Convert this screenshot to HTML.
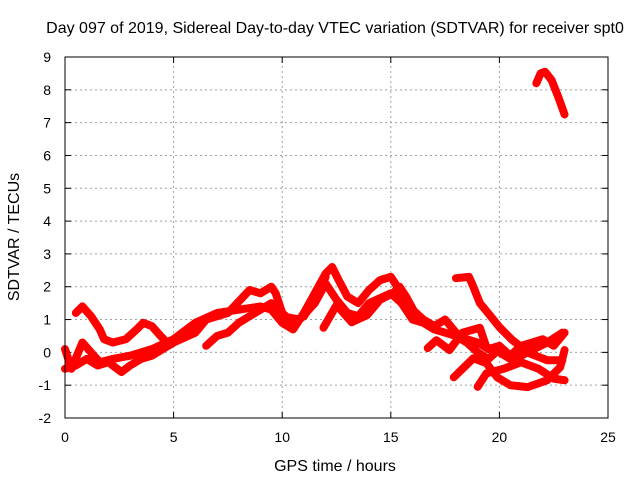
<!DOCTYPE html>
<html><head><meta charset="utf-8"><style>
html,body{margin:0;padding:0;background:#fff;}
svg{display:block;font-family:"Liberation Sans",sans-serif;}
</style></head><body>
<svg id="chart" width="640" height="480">
<text x="335" y="33" font-size="16" text-anchor="middle">Day 097 of 2019, Sidereal Day-to-day VTEC variation (SDTVAR) for receiver spt0</text>
<text x="335" y="471" font-size="16" text-anchor="middle">GPS time / hours</text>
<text x="19" y="237" font-size="16" text-anchor="middle" transform="rotate(-90 19 237)">SDTVAR / TECUs</text>
<g id="grid"></g><g id="ticks"></g><g id="series"></g>
<rect x="65" y="57" width="543" height="361" fill="none" stroke="#000" stroke-width="1"/>
</svg>
<script>
const xTicks=[0,5,10,15,20,25];
const yTicks=[-2,-1,0,1,2,3,4,5,6,7,8,9];
const s1=[[0.5,1.2],[0.8,1.4],[1.2,1.1],[1.6,0.7],[1.8,0.4],[2.2,0.3],[2.8,0.4],[3.3,0.7],[3.6,0.9],[4.0,0.8],[4.4,0.5],[4.7,0.3]];
const s2=[[0,-0.5],[0.5,-0.4],[1,-0.2],[1.5,-0.4],[2,-0.3],[2.6,-0.6],[3,-0.4],[3.5,-0.2],[4,-0.1],[4.5,0.1],[5,0.3]];
const s3=[[0,0.1],[0.3,-0.5],[0.8,0.3],[1.2,0],[1.6,-0.3],[2.2,-0.2],[3,-0.1],[4,0.1],[5,0.4]];
const s4=[[5,0.3],[6,0.6],[6.5,1.0],[7.5,1.2],[8.5,1.9],[9,1.8],[9.5,2.0],[9.7,1.8],[10,1.2],[10.5,0.9],[11,1.1],[11.5,1.6],[12,2.3]];
const s5=[[5,0.4],[6,0.9],[7,1.2],[8,1.3],[9,1.4],[9.5,1.3],[10,0.9],[10.5,0.7],[11,1.2],[11.5,1.8],[12,2.4],[12.3,2.6],[12.6,2.2],[13,1.7],[13.5,1.5],[14,1.9],[14.5,2.2],[15,2.3],[15.5,1.8],[16,1.3],[16.5,1.0],[17,0.8],[17.5,1.0],[18,0.6],[18.5,0.4],[19,0.3],[19.5,0.1],[20,0.2],[20.5,-0.1],[21,0.2],[21.5,0.3],[22,0.4],[22.5,0.2],[23,0.6]];
const s6=[[6.5,0.2],[7,0.5],[7.5,0.6],[8,0.9],[8.5,1.1],[9,1.3],[9.5,1.5],[10,1.1],[10.8,1.0],[11.5,1.5],[12,2.1],[12.5,1.6],[13,1.2],[13.5,1.1],[14,1.5],[15,1.8],[15.5,1.5],[16,1.0],[16.5,0.9],[17,0.7],[17.5,0.6],[18,0.5],[18.5,0.3],[19,0.0],[19.5,-0.2],[20,0.1]];
const s7=[[11.9,0.75],[12.5,1.44],[13.2,0.92],[13.9,1.13],[14.5,1.6],[15.1,1.8],[15.4,2.0],[15.7,1.7],[16.2,1.1],[16.7,0.9]];
const s8=[[16.7,0.13],[17.1,0.37],[17.7,0.07],[18.3,0.6],[19.1,0.75],[19.4,0.16],[20.0,0.0],[20.6,-0.24],[21.5,0.07],[22.2,0.3],[22.9,0.6]];
const s9=[[18.0,2.26],[18.6,2.3],[18.8,2.0],[19.1,1.5],[19.6,1.1],[20.0,0.77],[20.6,0.37],[21.4,-0.03],[22.2,-0.24],[22.9,-0.24]];
const s10=[[17.9,-0.76],[18.8,-0.18],[19.4,-0.33],[19.9,-0.76],[20.5,-1.0],[21.3,-1.06],[22.2,-0.85],[22.8,-0.45],[23.0,0.07]];
const s11=[[19.0,-1.05],[19.4,-0.64],[20.2,-0.5],[21,-0.3],[21.8,-0.5],[22.5,-0.8],[23,-0.85]];
const s12=[[21.7,8.2],[21.9,8.5],[22.1,8.55],[22.4,8.3],[22.7,7.8],[23.0,7.25]];
const allSeries=[s1,s2,s3,s4,s5,s6,s7,s8,s9,s10,s11,s12];
const X0=65,X1=608,Y0=418,Y1=57;
const xs=v=>X0+(v-0)/(25-0)*(X1-X0);
const ys=v=>Y0-(v+2)/(9+2)*(Y0-Y1);
const NS="http://www.w3.org/2000/svg";
const grid=document.getElementById('grid'),ticks=document.getElementById('ticks'),ser=document.getElementById('series');
function mk(t,a,p){const e=document.createElementNS(NS,t);for(const k in a)e.setAttribute(k,a[k]);p.appendChild(e);return e;}
xTicks.forEach(v=>{const x=xs(v);
 if(v>0&&v<25){const g=mk('line',{x1:x,x2:x,y1:Y0,y2:Y1,stroke:'#a0a0a0','stroke-dasharray':'2,3'},grid);
 
 }
 mk('line',{x1:x,x2:x,y1:Y0,y2:Y0-6,stroke:'#000'},ticks);mk('line',{x1:x,x2:x,y1:Y1,y2:Y1+6,stroke:'#000'},ticks);
 const t=mk('text',{x:x,y:Y0+24,'font-size':14,'text-anchor':'middle'},ticks);t.textContent=v;
 
 });
yTicks.forEach(v=>{const y=ys(v);
 if(v>-2&&v<9){const g=mk('line',{x1:X0,x2:X1,y1:y,y2:y,stroke:'#a0a0a0','stroke-dasharray':'2,3'},grid);
 
 }
 mk('line',{x1:X0,x2:X0+6,y1:y,y2:y,stroke:'#000'},ticks);mk('line',{x1:X1,x2:X1-6,y1:y,y2:y,stroke:'#000'},ticks);
 const t=mk('text',{x:X0-14,y:y+5,'font-size':14,'text-anchor':'end'},ticks);t.textContent=v;
 
 });
allSeries.forEach((s,i)=>{
 const p=mk('polyline',{points:s.map(d=>xs(d[0])+','+ys(d[1])).join(' '),fill:'none',stroke:'#ff0000','stroke-width':8,'stroke-linejoin':'round','stroke-linecap':'round'},ser);
 
 
});
</script>
</body></html>
